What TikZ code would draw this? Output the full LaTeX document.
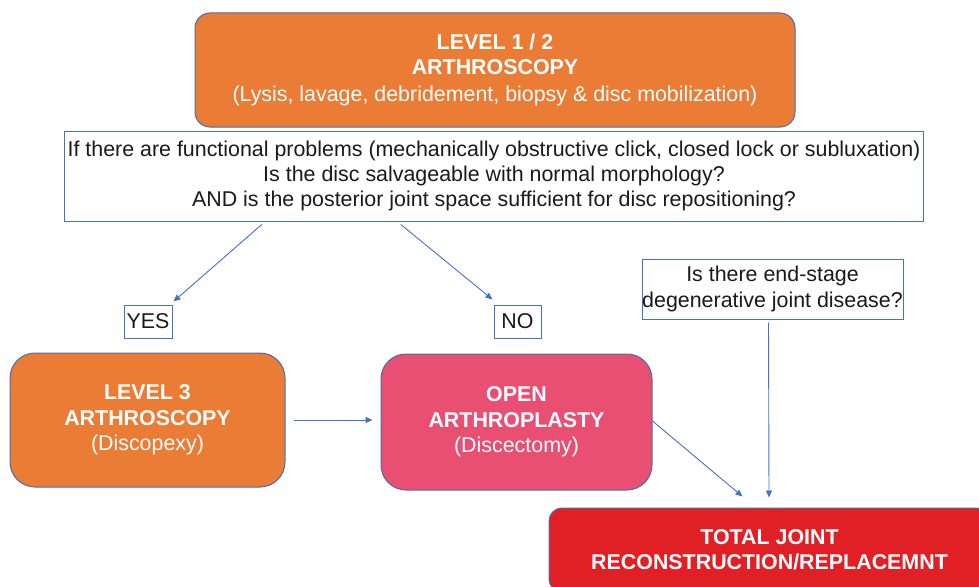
\documentclass[tikz,border=0pt]{standalone}
\usepackage{fontspec}
\setmainfont{Liberation Sans}
\usetikzlibrary{arrows.meta}
\definecolor{orangefill}{HTML}{EA7C35}
\definecolor{pinkfill}{HTML}{E84F73}
\definecolor{redfill}{HTML}{E02025}
\definecolor{edgeblue}{HTML}{4A6DAA}
\definecolor{lineblue}{HTML}{4472C4}
\definecolor{txt}{HTML}{1A1A1A}
\tikzset{
  txtfont/.style={font=\fontsize{21.4}{25.4}\selectfont},
  procbox/.style={draw=edgeblue, line width=1pt, text=white, align=center, txtfont},
  qbox/.style={draw=lineblue, line width=1pt, fill=white, text=txt, align=center, txtfont},
  arr/.style={draw=lineblue, line width=0.9pt, -{Triangle[length=7pt,width=6pt]}},
}
\begin{document}
\begin{tikzpicture}[x=1pt,y=-1pt]
\useasboundingbox (0,0) rectangle (979,586);
\clip (0,0) rectangle (979,586);
% top box
\node[procbox, fill=orangefill, rounded corners=15pt, minimum width=600pt, minimum height=114pt] (top) at (495,70)
  {\textbf{LEVEL 1 / 2}\\ \textbf{ARTHROSCOPY}\\ \raisebox{-1.5pt}{(Lysis, lavage, debridement, biopsy \& disc mobilization)}};
% question box
\node[qbox, minimum width=858pt, minimum height=90pt] (q) at (494,176)
  {\raisebox{-3pt}{If there are functional problems (mechanically obstructive click, closed lock or subluxation)}\\ \raisebox{-3pt}{Is the disc salvageable with normal morphology?}\\ \raisebox{-3pt}{AND is the posterior joint space sufficient for disc repositioning?}};
% yes / no
\node[qbox, minimum width=48pt, minimum height=33pt, inner sep=0pt] (yes) at (148,321.5) {YES};
\node[qbox, minimum width=47pt, minimum height=33pt, inner sep=0pt] (no) at (517.5,321.5) {NO};
% end-stage question
\node[qbox, minimum width=261pt, minimum height=60pt, inner sep=0pt] (endq) at (772.5,289)
  {Is there end-stage\\ degenerative joint disease?};
% level 3
\node[procbox, fill=orangefill, rounded corners=25pt, minimum width=275pt, minimum height=134pt] (l3) at (147.5,420)
  {\textbf{LEVEL 3}\\ \textbf{ARTHROSCOPY}\\ (Discopexy)};
% open arthroplasty
\node[procbox, fill=pinkfill, rounded corners=25pt, minimum width=271pt, minimum height=136pt] (open) at (516.5,422)
  {\textbf{OPEN}\\ \textbf{ARTHROPLASTY}\\ (Discectomy)};
% total joint
\node[procbox, fill=redfill, rounded corners=13pt, minimum width=441pt, minimum height=84pt] (tjr) at (769.5,550)
  {\textbf{TOTAL JOINT}\\ \textbf{RECONSTRUCTION/REPLACEMNT}};
% connectors
\draw[arr] ([xshift=198pt,yshift=-3pt]q.south west) -- ([xshift=1pt,yshift=3pt]yes.north east);
\draw[arr] ([xshift=337pt,yshift=-3pt]q.south west) -- ([xshift=-1pt,yshift=5pt]no.north west);
\draw[arr] ([xshift=8pt]l3.east) -- ([xshift=-8pt]l3.east -| open.west);
\draw[arr] ([yshift=1pt]open.east) -- ([xshift=194pt,yshift=11pt]tjr.north west);
\draw[arr] ([xshift=-4pt,yshift=-3pt]endq.south) -- ([xshift=-0.5pt,yshift=10pt]tjr.north);
\end{tikzpicture}
\end{document}
